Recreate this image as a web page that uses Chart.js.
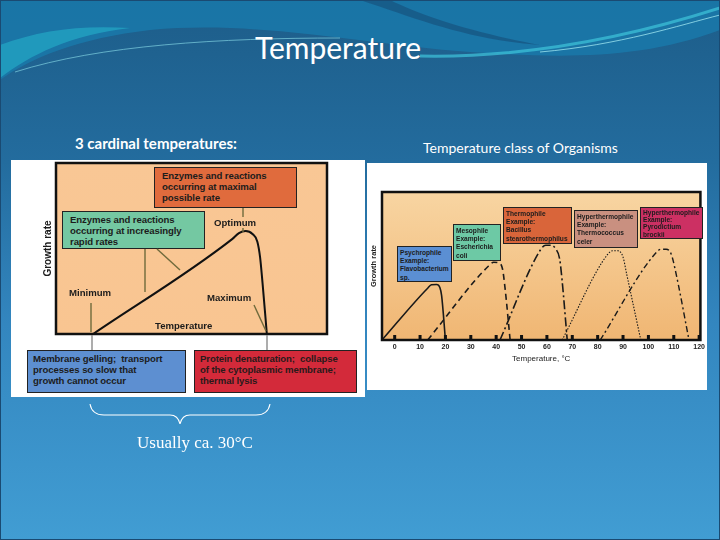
<!DOCTYPE html>
<html>
<head>
<meta charset="utf-8">
<script src="https://cdn.jsdelivr.net/npm/chart.js@4/dist/chart.umd.min.js"></script>
<style>
  html, body { margin: 0; padding: 0; }
  body { width: 720px; height: 540px; position: relative; overflow: hidden;
         background: linear-gradient(180deg, #1d5d89 0%, #236c9e 30%, #3386bf 60%, #419dd3 100%);
         font-family: Lato, 'Liberation Sans', sans-serif; }
  .abs { position: absolute; }
  .frame { position: absolute; left: 0; top: 0; width: 718px; height: 538px; border: 1px solid #1a4a72; }
  .title { left: 0; width: 676px; top: 29px; text-align: center; color: #fff; font-size: 30px; }
  .sub1 { left: 75px; top: 134px; color: #fff; font-size: 15px; font-weight: bold; }
  .sub2 { left: 423px; top: 139px; color: #fff; font-size: 14px; }
  .panel { position: absolute; background: #fff; }
  .box { position: absolute; border: 1.5px solid #222; box-sizing: border-box; color: #1c1c1c;
         font-family: 'Liberation Sans', Arial, sans-serif; font-weight: bold; }
  .lbox { font-size: 9.6px; line-height: 11px; padding: 2px 0 0 7px; letter-spacing: -0.1px; }
  .rbox { font-size: 6.6px; line-height: 8.2px; padding: 2px 0 0 2px; }
  .lbl { position: absolute; font-family: 'Liberation Sans', Arial, sans-serif; font-weight: bold;
         font-size: 9.6px; color: #1c1c1c; }
  .usually { left: 100px; width: 190px; top: 433px; text-align: center; color: #fff;
             font-family: 'Liberation Serif', 'DejaVu Serif', serif; font-size: 17px; }
</style>
</head>
<body>
<svg class="abs" style="left:0;top:0" width="720" height="120">
  <path d="M0,0 L720,0 L720,30 C640,60 560,58 470,52 C360,44 260,20 150,30 C80,38 30,58 0,80 Z" fill="#1a78a8" opacity="0.9"/>
  <path d="M0,45 C40,30 80,25 130,28 C70,35 30,55 0,78 Z" fill="#22a3c2" opacity="0.8"/>
  <path d="M360,0 C420,20 470,40 540,45 C470,32 420,15 390,0 Z" fill="#17537f" opacity="0.7"/>
  <path d="M15,72 C100,45 220,38 340,38" stroke="#7fd0e0" stroke-width="1" fill="none" opacity="0.7"/>
  <path d="M420,56 C520,58 620,40 720,8" stroke="#3fc4dc" stroke-width="3" fill="none" opacity="0.7"/>
  <path d="M540,52 C620,45 680,25 720,15" stroke="#9be3ef" stroke-width="1" fill="none" opacity="0.8"/>
</svg>
<div class="frame"></div>

<div class="abs title">Temperature</div>
<div class="abs sub1">3 cardinal temperatures:</div>
<div class="abs sub2">Temperature class of Organisms</div>

<!-- left figure -->
<div class="panel" style="left:11px;top:160px;width:354px;height:237px"></div>
<canvas id="cardinal" class="abs" style="left:40px;top:161px" width="289" height="175"></canvas>

<div class="box lbox" style="left:154px;top:167px;width:143px;height:41px;background:#e06b3d">Enzymes and reactions<br>occurring at maximal<br>possible rate</div>
<div class="box lbox" style="left:62px;top:211px;width:143px;height:38px;background:#74c8a2">Enzymes and reactions<br>occurring at increasingly<br>rapid rates</div>
<div class="box lbox" style="left:27px;top:350px;width:159px;height:43px;background:#5d8fd1;padding-left:5px">Membrane gelling;&nbsp; transport<br>processes so slow that<br>growth cannot occur</div>
<div class="box lbox" style="left:194px;top:350px;width:163px;height:43px;background:#d32a3a;padding-left:5px;color:#2a1a1a">Protein denaturation;&nbsp; collapse<br>of the cytoplasmic membrane;<br>thermal lysis</div>

<div class="lbl" style="left:214px;top:217px">Optimum</div>
<div class="lbl" style="left:69px;top:287px">Minimum</div>
<div class="lbl" style="left:207px;top:292px">Maximum</div>
<div class="lbl" style="left:155px;top:320px">Temperature</div>

<svg class="abs" style="left:0;top:0;pointer-events:none" width="720" height="540">
  <g stroke="#6f6a3c" stroke-width="1.4" fill="none">
    <line x1="243" y1="208" x2="243" y2="217"/>
    <line x1="243" y1="228" x2="243" y2="232"/>
    <line x1="145" y1="249" x2="145" y2="292"/>
    <line x1="157" y1="249" x2="180" y2="270"/>
    <line x1="91" y1="303" x2="91" y2="332"/>
    <line x1="254" y1="305" x2="266" y2="331"/>
  </g>
  <g stroke="#8a8a8a" stroke-width="1.4">
    <line x1="92" y1="335" x2="92" y2="350"/>
    <line x1="267" y1="335" x2="267" y2="350"/>
  </g>
  <path d="M90,404 Q92,415 104,415 L170,415 Q178,415 180,424 Q182,415 190,415 L256,415 Q268,415 270,404"
        stroke="#fff" stroke-width="1.1" fill="none"/>
</svg>
<div class="abs usually">Usually ca. 30°C</div>

<!-- right figure -->
<div class="panel" style="left:367px;top:163px;width:340px;height:227px"></div>
<canvas id="classes" class="abs" style="left:367px;top:163px" width="341" height="227"></canvas>

<div class="box rbox" style="left:397px;top:246px;width:55px;height:36px;background:#5b8fd3">Psychrophile<br>Example:<br>Flavobacterium<br>sp.</div>
<div class="box rbox" style="left:453px;top:224px;width:48px;height:37px;background:#6dc9a5">Mesophile<br>Example:<br>Escherichia<br>coli</div>
<div class="box rbox" style="left:503px;top:207px;width:69px;height:37px;background:#d9653a">Thermophile<br>Example:<br>Bacillus<br>stearothermophilus</div>
<div class="box rbox" style="left:574px;top:210px;width:64px;height:38px;background:#c99080">Hyperthermophile<br>Example:<br>Thermococcus<br>celer</div>
<div class="box rbox" style="left:640px;top:207px;width:63px;height:32px;background:#cc3063;line-height:7.2px;padding-top:1px">Hyperthermophile<br>Example:<br>Pyrodictium<br>brockii</div>

<script>
// left figure: one generic growth curve (temperature 0-100, growth rate 0-100)
const cardinalTemp = [13.7, 65, 67.5, 70, 72.5, 74.3, 75.3, 76.2, 77.8];
const cardinalRate = [0, 55.5, 59, 60.2, 58.5, 54, 45, 30, 0];

// right figure: temperature classes (°C, relative growth rate 0-100)
const tempTicks = [0, 10, 20, 30, 40, 50, 60, 70, 80, 90, 100, 110, 120];
const psychroTemp = [-5, 13, 14.5, 16.5, 17.8, 18.5, 20];
const psychroRate = [0, 35, 37.3, 37.5, 35.5, 30, 0];
const mesoTemp = [13, 37, 39, 41, 42.5, 43.5, 45.5];
const mesoRate = [0, 50, 52.5, 52, 48, 35, 0];
const thermoTemp = [41.5, 57.5, 59.5, 61.5, 63.5, 65, 66, 68];
const thermoRate = [0, 61, 64, 64, 61.5, 55, 40, 0];
const thermococcusTemp = [66, 84, 86, 88, 90, 91.5, 97];
const thermococcusRate = [0, 58, 60.3, 60.3, 56, 44, 0];
const pyrodictiumTemp = [81, 103, 105, 107, 109, 110.5, 116];
const pyrodictiumRate = [0, 59, 61.3, 61.3, 58, 48, 0];

const pts = (xs, ys) => xs.map((x, i) => ({ x, y: ys[i] }));

// paints the peach plot area, black frame and inner tick marks
const plotFrame = {
  id: 'plotFrame',
  beforeDatasetsDraw(chart, args, opts) {
    const { ctx, chartArea: a } = chart;
    const g = ctx.createLinearGradient(0, a.top, 0, a.bottom);
    g.addColorStop(0, opts.top);
    g.addColorStop(1, opts.bottom);
    ctx.save();
    ctx.fillStyle = g;
    ctx.fillRect(a.left, a.top, a.right - a.left, a.bottom - a.top);
    ctx.restore();
  },
  afterDatasetsDraw(chart, args, opts) {
    const { ctx, chartArea: a } = chart;
    ctx.save();
    ctx.strokeStyle = '#111';
    ctx.lineWidth = 2.5;
    ctx.strokeRect(a.left, a.top, a.right - a.left, a.bottom - a.top);
    if (opts.ticks) {
      ctx.fillStyle = '#111';
      chart.scales.x.ticks.forEach(t => {
        const px = chart.scales.x.getPixelForValue(t.value);
        ctx.fillRect(px - 1.5, a.bottom - 5, 3, 5);
      });
    }
    ctx.restore();
  }
};

new Chart(document.getElementById('cardinal'), {
  type: 'line',
  data: {
    datasets: [{
      data: pts(cardinalTemp, cardinalRate),
      borderColor: '#111', borderWidth: 2, pointRadius: 0,
      cubicInterpolationMode: 'monotone', clip: false
    }]
  },
  options: {
    responsive: false, animation: false,
    layout: { padding: { top: 2, right: 2, bottom: 2, left: 0 } },
    scales: {
      x: { type: 'linear', display: false, min: 0, max: 100 },
      y: {
        min: 0, max: 100,
        afterFit: s => { s.width = 16; },
        ticks: { display: false }, grid: { display: false, drawTicks: false }, border: { display: false },
        title: { display: true, text: 'Growth rate', color: '#1c1c1c',
                 font: { family: 'Liberation Sans', size: 10, weight: 'bold' }, padding: { top: 2, bottom: 2 } }
      }
    },
    plugins: { legend: { display: false }, tooltip: { enabled: false },
               plotFrame: { top: '#f9c795', bottom: '#f9c591', ticks: false } }
  },
  plugins: [plotFrame]
});

const line = (xs, ys, width, dash) => ({
  data: pts(xs, ys), borderColor: '#1a1a1a', borderWidth: width, borderDash: dash,
  pointRadius: 0, cubicInterpolationMode: 'monotone', clip: false
});

new Chart(document.getElementById('classes'), {
  type: 'line',
  data: {
    datasets: [
      line(psychroTemp, psychroRate, 1.6, []),
      line(mesoTemp, mesoRate, 1.6, [6, 4]),
      line(thermoTemp, thermoRate, 1.6, [9, 3, 2, 3]),
      line(thermococcusTemp, thermococcusRate, 1.1, [1.5, 1.5]),
      line(pyrodictiumTemp, pyrodictiumRate, 1.4, [6, 3, 2, 3])
    ]
  },
  options: {
    responsive: false, animation: false,
    layout: { padding: { top: 29, right: 3, bottom: 24, left: 0 } },
    scales: {
      x: {
        type: 'linear', min: -5, max: 120.5,
        afterBuildTicks: s => { s.ticks = tempTicks.map(v => ({ value: v })); },
        afterFit: s => { s.height = 26; },
        grid: { display: false, drawTicks: false, tickLength: 0 }, border: { display: false },
        ticks: { color: '#222', padding: 3, maxRotation: 0, autoSkip: false,
                 font: { family: 'Liberation Sans', size: 7, weight: 'bold' } },
        title: { display: true, text: 'Temperature, °C', color: '#222',
                 font: { family: 'Liberation Sans', size: 8 }, padding: { top: 2, bottom: 2 } }
      },
      y: {
        min: 0, max: 100,
        afterFit: s => { s.width = 15; },
        ticks: { display: false }, grid: { display: false, drawTicks: false }, border: { display: false },
        title: { display: true, text: 'Growth rate', color: '#222',
                 font: { family: 'Liberation Sans', size: 7.5, weight: 'bold' }, padding: { top: 2, bottom: 2 } }
      }
    },
    plugins: { legend: { display: false }, tooltip: { enabled: false },
               plotFrame: { top: '#f8d5a2', bottom: '#f0b673', ticks: true } }
  },
  plugins: [plotFrame]
});
</script>
</body>
</html>
